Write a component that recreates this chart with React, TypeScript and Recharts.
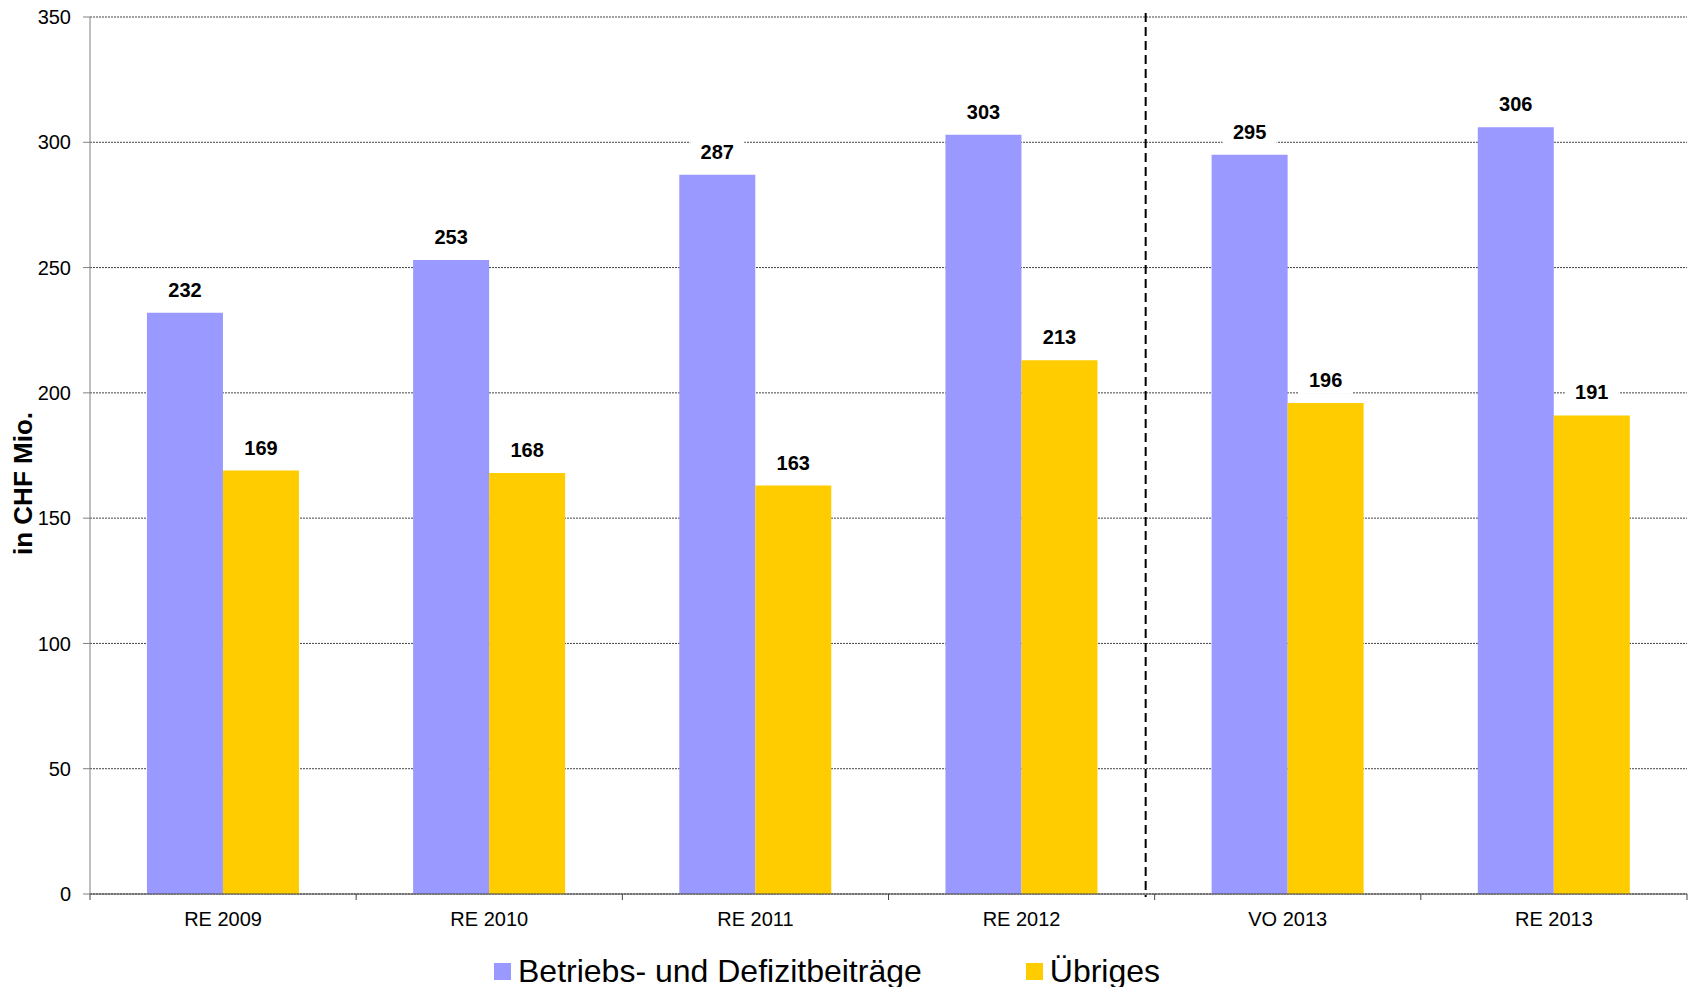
import React from 'react';
import { BarChart, Bar, XAxis, YAxis, CartesianGrid, Legend, LabelList, ReferenceLine } from 'recharts';

const categories = ['RE 2009', 'RE 2010', 'RE 2011', 'RE 2012', 'VO 2013', 'RE 2013'];
const betriebsValues = [232, 253, 287, 303, 295, 306];
const uebrigesValues = [169, 168, 163, 213, 196, 191];
const yTicks = [0, 50, 100, 150, 200, 250, 300, 350];
const seriesNames = ['Betriebs- und Defizitbeiträge', 'Übriges'];
const seriesColors = ['#9999FF', '#FFCC00'];
// split between actuals and budget, drawn at the start of this category
const dividerCategory = 'VO 2013';

const CHART_W = 1696;
const CHART_H = 987;
const MARGIN = { top: 17, right: 9, bottom: 0, left: 0 };
const YAXIS_W = 90;
const PLOT_W = CHART_W - MARGIN.left - MARGIN.right - YAXIS_W;
const FONT = '"Liberation Sans", Arial, sans-serif';

const data = categories.map((name, i) => ({
  name,
  betriebs: betriebsValues[i],
  uebriges: uebrigesValues[i],
}));

// Excel style category axis: ticks between the categories, label in the middle
const CategoryTick = (props: any) => {
  const { x, y, payload, index } = props;
  const step = PLOT_W / categories.length;
  return (
    <g>
      <line x1={x - step / 2} x2={x - step / 2} y1={y} y2={y + 6} stroke="#444" />
      {index === categories.length - 1 && (
        <line x1={x + step / 2} x2={x + step / 2} y1={y} y2={y + 6} stroke="#444" />
      )}
      <text x={x} y={y + 32} textAnchor="middle" fontSize={20} fontFamily={FONT} fill="#000">
        {payload.value}
      </text>
    </g>
  );
};

// value label on a white box so the gridline does not run through it
const ValueLabel = (props: any) => {
  const { x, y, width, value } = props;
  const cx = x + width / 2;
  return (
    <g>
      <rect x={cx - 27} y={y - 37} width={54} height={28} fill="#fff" />
      <text x={cx} y={y - 16} textAnchor="middle" fontSize={20} fontWeight="bold" fontFamily={FONT} fill="#000">
        {value}
      </text>
    </g>
  );
};

const YLabel = (props: any) => {
  const { viewBox } = props;
  const tx = viewBox.x + 32;
  const ty = viewBox.y + viewBox.height / 2 + 28;
  return (
    <text
      x={tx}
      y={ty}
      transform={`rotate(-90, ${tx}, ${ty})`}
      textAnchor="middle"
      fontSize={26}
      fontWeight="bold"
      fontFamily={FONT}
      fill="#000"
    >
      in CHF Mio.
    </text>
  );
};

// the divider in the original sits a little left of the category border
const DividerLine = (props: any) => {
  const { x1, x2, y1, y2 } = props;
  const top = Math.min(y1, y2);
  const bottom = Math.max(y1, y2);
  return (
    <line
      x1={x1 - 9}
      x2={x2 - 9}
      y1={top - 4}
      y2={bottom + 3}
      stroke="#000"
      strokeWidth={2}
      strokeDasharray="9 5"
    />
  );
};

const CustomLegend = () => (
  <div
    style={{
      height: 40,
      boxSizing: 'border-box',
      paddingTop: 8,
      display: 'flex',
      alignItems: 'center',
      paddingLeft: 494,
      fontFamily: FONT,
      fontSize: 32,
      lineHeight: '32px',
      color: '#000',
    }}
  >
    {seriesNames.map((name, i) => (
      <div key={name} style={{ display: 'flex', alignItems: 'center', marginLeft: i === 0 ? 0 : 104 }}>
        <span style={{ width: 17, height: 17, background: seriesColors[i], marginRight: 7, display: 'inline-block' }} />
        <span>{name}</span>
      </div>
    ))}
  </div>
);

const App: React.FC = () => {
  return (
    <div style={{ position: 'absolute', left: 0, top: 0, width: CHART_W, height: CHART_H, background: '#fff' }}>
      <BarChart
        width={CHART_W}
        height={CHART_H}
        data={data}
        margin={MARGIN}
        barCategoryGap="21.4%"
        barGap={0}
      >
        <CartesianGrid vertical={false} stroke="#444" strokeDasharray="2 1" />
        <XAxis
          dataKey="name"
          height={53}
          tickLine={false}
          tickSize={0}
          tickMargin={0}
          axisLine={{ stroke: '#444' }}
          tick={<CategoryTick />}
          interval={0}
        />
        <YAxis
          width={YAXIS_W}
          domain={[0, 350]}
          ticks={yTicks}
          interval={0}
          axisLine={{ stroke: '#808080' }}
          tickLine={{ stroke: '#808080' }}
          tickSize={7}
          tickMargin={12}
          tick={{ fontSize: 20, fontFamily: FONT, fill: '#000' }}
          label={<YLabel />}
        />
        <Bar dataKey="betriebs" name={seriesNames[0]} fill={seriesColors[0]} isAnimationActive={false}>
          <LabelList dataKey="betriebs" content={<ValueLabel />} />
        </Bar>
        <Bar dataKey="uebriges" name={seriesNames[1]} fill={seriesColors[1]} isAnimationActive={false}>
          <LabelList dataKey="uebriges" content={<ValueLabel />} />
        </Bar>
        <ReferenceLine
          x={dividerCategory}
          position="start"
          ifOverflow="visible"
          shape={<DividerLine />}
        />
        <Legend
          verticalAlign="bottom"
          height={40}
          content={<CustomLegend />}
          wrapperStyle={{ left: 0, width: CHART_W }}
        />
      </BarChart>
    </div>
  );
};

export default App;
